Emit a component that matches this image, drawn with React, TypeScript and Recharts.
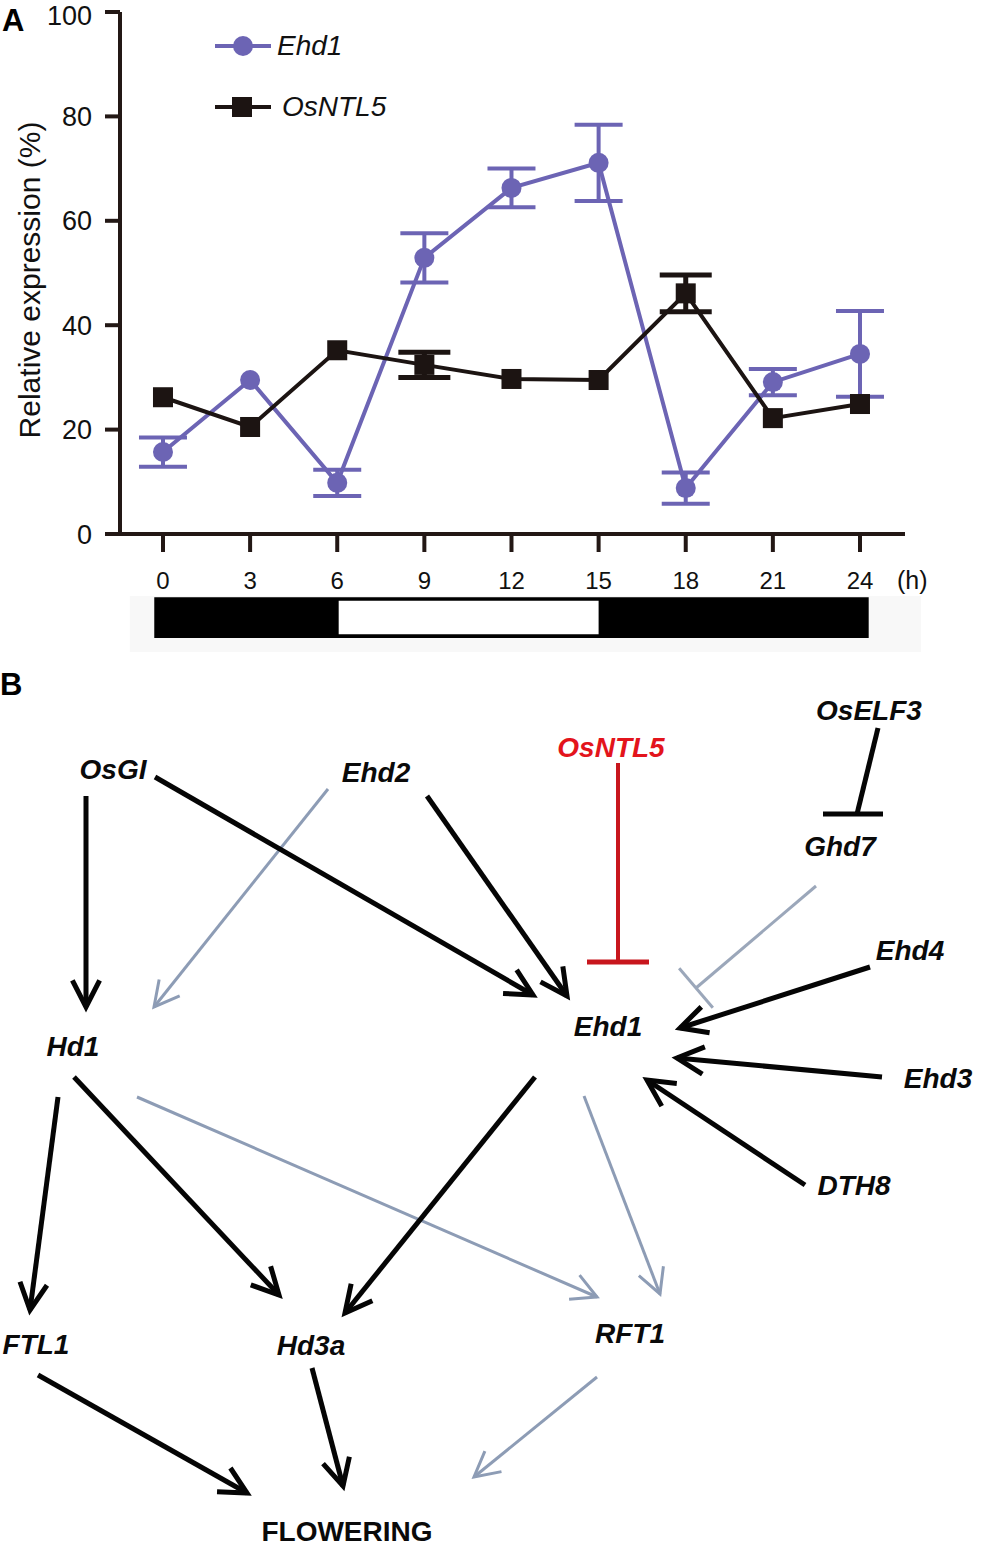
import React from "react";
import {
  LineChart,
  Line,
  XAxis,
  YAxis,
  ErrorBar,
  ReferenceArea,
  Legend,
  ScatterChart,
  Scatter,
  ReferenceLine,
} from "recharts";

const FONT = "'Liberation Sans', Arial, Helvetica, sans-serif";
const PURPLE = "#6c64b4";
const DARK = "#1c1412";
const AXIS = "#231815";

// --- panel A: diurnal expression ---
const hours = [0, 3, 6, 9, 12, 15, 18, 21, 24];
const ehd1 = [15.7, 29.5, 9.8, 52.9, 66.3, 71.1, 8.8, 29.1, 34.5];
const ehd1Err = [2.8, null, 2.5, 4.7, 3.7, 7.3, 3.0, 2.5, 8.2];
const osntl5 = [26.2, 20.5, 35.2, 32.4, 29.7, 29.5, 46.1, 22.2, 24.9];
const osntl5Err = [null, null, null, 2.4, null, null, 3.5, null, null];
const yTicks = [0, 20, 40, 60, 80, 100];

// photoperiod bar (h): dark / light / dark
const barStart = -0.3;
const barEnd = 24.3;
const lightOn = 6;
const lightOff = 15;

const seriesA = hours.map((h, i) => ({
  h,
  ehd1: ehd1[i],
  ehd1Err: ehd1Err[i],
  osntl5: osntl5[i],
  osntl5Err: osntl5Err[i],
}));

// --- panel B: regulatory network ---
const nodeNames = ["OsGI", "Ehd2", "OsNTL5", "OsELF3", "Ghd7", "Ehd4", "Ehd1", "Ehd3", "DTH8", "Hd1", "FTL1", "Hd3a", "RFT1", "FLOWERING"];
const nodeX = [113, 376, 611, 869, 840, 910, 608, 938, 854, 73, 36, 311, 630, 347];
const nodeY = [769, 772, 747, 710, 846, 950, 1026, 1078, 1185, 1046, 1344, 1345, 1333, 1531];
const redNodes = ["OsNTL5"];
const uprightNodes = ["FLOWERING"];

// act = induces, weak = weak induction, rep / inh / weakInh = repression
const edges = [
  { from: "OsGI", to: "Hd1", kind: "act", p: [86, 796, 86, 1007] },
  { from: "Ehd2", to: "Hd1", kind: "weak", p: [328, 789, 154, 1007] },
  { from: "OsGI", to: "Ehd1", kind: "act", p: [155, 777, 533, 995] },
  { from: "Ehd2", to: "Ehd1", kind: "act", p: [427, 796, 567, 996] },
  { from: "OsNTL5", to: "Ehd1", kind: "rep", p: [618, 763, 618, 962] },
  { from: "OsELF3", to: "Ghd7", kind: "inh", p: [878, 728, 857, 814] },
  { from: "Ghd7", to: "Ehd1", kind: "weakInh", p: [816, 886, 696, 988] },
  { from: "Ehd4", to: "Ehd1", kind: "act", p: [870, 967, 680, 1028] },
  { from: "Ehd3", to: "Ehd1", kind: "act", p: [882, 1077, 677, 1058] },
  { from: "DTH8", to: "Ehd1", kind: "act", p: [805, 1185, 647, 1080] },
  { from: "Hd1", to: "FTL1", kind: "act", p: [58, 1097, 30, 1310] },
  { from: "Hd1", to: "Hd3a", kind: "act", p: [74, 1077, 279, 1295] },
  { from: "Hd1", to: "RFT1", kind: "weak", p: [137, 1097, 597, 1297] },
  { from: "Ehd1", to: "Hd3a", kind: "act", p: [535, 1077, 345, 1313] },
  { from: "Ehd1", to: "RFT1", kind: "weak", p: [584, 1096, 660, 1294] },
  { from: "FTL1", to: "FLOWERING", kind: "act", p: [38, 1375, 247, 1493] },
  { from: "Hd3a", to: "FLOWERING", kind: "act", p: [312, 1368, 343, 1486] },
  { from: "RFT1", to: "FLOWERING", kind: "weak", p: [597, 1377, 474, 1477] },
];

const nodes = nodeNames.map((name, i) => ({ name, x: nodeX[i], y: nodeY[i] }));

const EDGE_STYLE: any = {
  act: { color: "#050505", width: 5, head: "arrow", len: 30, ang: 27 },
  weak: { color: "#8d9cb5", width: 3, head: "arrow", len: 28, ang: 28 },
  rep: { color: "#c8161d", width: 4, head: "bar", half: 31, barW: 5 },
  inh: { color: "#050505", width: 5, head: "bar", half: 30, barW: 5, flat: true, shift: -4 },
  weakInh: { color: "#9ba7ba", width: 3, head: "bar", half: 26, barW: 3 },
};

function edgeShape(kind: string) {
  const st = EDGE_STYLE[kind];
  return (props: any) => {
    const { x1, y1, x2, y2 } = props;
    const dx = x2 - x1;
    const dy = y2 - y1;
    const L = Math.hypot(dx, dy) || 1;
    const ux = dx / L;
    const uy = dy / L;
    let head: any = null;
    if (st.head === "arrow") {
      const a = (st.ang * Math.PI) / 180;
      const bx = -ux;
      const by = -uy;
      const ax1 = x2 + st.len * (bx * Math.cos(a) - by * Math.sin(a));
      const ay1 = y2 + st.len * (bx * Math.sin(a) + by * Math.cos(a));
      const ax2 = x2 + st.len * (bx * Math.cos(-a) - by * Math.sin(-a));
      const ay2 = y2 + st.len * (bx * Math.sin(-a) + by * Math.cos(-a));
      head = (
        <polyline
          points={`${ax1},${ay1} ${x2},${y2} ${ax2},${ay2}`}
          fill="none"
          stroke={st.color}
          strokeWidth={st.width}
          strokeLinejoin="miter"
        />
      );
    } else {
      const px = st.flat ? 1 : -uy;
      const py = st.flat ? 0 : ux;
      const cx = x2 + (st.shift || 0);
      head = (
        <line
          x1={cx - px * st.half}
          y1={y2 - py * st.half}
          x2={cx + px * st.half}
          y2={y2 + py * st.half}
          stroke={st.color}
          strokeWidth={st.barW}
        />
      );
    }
    return (
      <g>
        <line x1={x1} y1={y1} x2={x2} y2={y2} stroke={st.color} strokeWidth={st.width} />
        {head}
      </g>
    );
  };
}

function NodeLabel(props: any) {
  const { cx, cy, payload } = props;
  const red = redNodes.includes(payload.name);
  const upright = uprightNodes.includes(payload.name);
  return (
    <text
      x={cx}
      y={cy}
      textAnchor="middle"
      dominantBaseline="central"
      fontFamily={FONT}
      fontWeight="bold"
      fontStyle={upright ? "normal" : "italic"}
      fontSize={28}
      fill={red ? "#e3141c" : "#0a0a0a"}
    >
      {payload.name}
    </text>
  );
}

function SquareDot(props: any) {
  const { cx, cy, index } = props;
  if (cx == null || cy == null) return <g key={index} />;
  return <rect key={index} x={cx - 10} y={cy - 10} width={20} height={20} fill={DARK} />;
}

function LegendBox() {
  const row = { display: "flex", alignItems: "center", height: 30 } as const;
  const txt = { fontFamily: FONT, fontStyle: "italic", fontSize: 28, color: "#111", marginLeft: 6 } as const;
  return (
    <div>
      <div style={row}>
        <svg width={56} height={24}>
          <line x1={0} y1={12} x2={56} y2={12} stroke={PURPLE} strokeWidth={4} />
          <circle cx={28} cy={12} r={10} fill={PURPLE} />
        </svg>
        <span style={txt}>Ehd1</span>
      </div>
      <div style={{ ...row, marginTop: 31 }}>
        <svg width={56} height={24}>
          <line x1={0} y1={12} x2={56} y2={12} stroke={DARK} strokeWidth={4} />
          <rect x={17} y={2} width={20} height={20} fill={DARK} />
        </svg>
        <span style={{ ...txt, marginLeft: 11 }}>OsNTL5</span>
      </div>
    </div>
  );
}

const panelLabel = { position: "absolute", fontFamily: FONT, fontWeight: "bold", fontSize: 31, lineHeight: 1 } as const;

export default function App() {
  return (
    <div style={{ position: "absolute", left: 0, top: 0, width: 983, height: 1545, background: "#fff", overflow: "hidden" }}>
      <div style={{ ...panelLabel, left: 2, top: 5 }}>A</div>
      <div style={{ ...panelLabel, left: 0, top: 669 }}>B</div>

      <div style={{ position: "absolute", left: 0, top: 0 }}>
        <LineChart width={983} height={660} data={seriesA} margin={{ top: 12, right: 78, bottom: 66, left: 0 }}>
          <XAxis
            dataKey="h"
            type="number"
            domain={[-1.48, 25.55]}
            allowDataOverflow
            ticks={hours}
            height={60}
            stroke={AXIS}
            strokeWidth={4}
            tickSize={18}
            tickMargin={20}
            tickLine={{ stroke: AXIS, strokeWidth: 4 }}
            tick={{ fill: "#111", fontSize: 24, fontFamily: FONT }}
            label={(p: any) => {
              const vb = p.viewBox;
              return (
                <text x={vb.x + vb.width - 8} y={vb.y + 46} fontFamily={FONT} fontSize={25} fill="#111" dominantBaseline="central">
                  (h)
                </text>
              );
            }}
          />
          <YAxis
            type="number"
            domain={[0, 100]}
            ticks={yTicks}
            width={120}
            stroke={AXIS}
            strokeWidth={4}
            tickSize={15}
            tickMargin={13}
            tickLine={{ stroke: AXIS, strokeWidth: 4 }}
            tick={{ fill: "#111", fontSize: 27, fontFamily: FONT }}
            label={(p: any) => {
              const vb = p.viewBox;
              const cx = 29;
              const cy = vb.y + vb.height / 2 + 7;
              return (
                <text
                  x={cx}
                  y={cy}
                  transform={`rotate(-90 ${cx} ${cy})`}
                  textAnchor="middle"
                  dominantBaseline="central"
                  fontFamily={FONT}
                  fontSize={30}
                  fill="#111"
                >
                  Relative expression (%)
                </text>
              );
            }}
          />
          <ReferenceArea x1={-1.14} x2={26.1} y1={-11.9} y2={-22.6} ifOverflow="visible" fill="#f8f8f8" fillOpacity={1} stroke="none" />
          <ReferenceArea x1={barStart} x2={barEnd} y1={-12.1} y2={-19.9} ifOverflow="visible" fill="#000" fillOpacity={1} stroke="none" />
          <ReferenceArea x1={lightOn + 0.05} x2={lightOff} y1={-12.8} y2={-19.2} ifOverflow="visible" fill="#fff" fillOpacity={1} stroke="none" />
          <Line
            dataKey="ehd1"
            stroke={PURPLE}
            strokeWidth={4}
            dot={{ r: 10, fill: PURPLE, stroke: "none" }}
            activeDot={false}
            isAnimationActive={false}
          >
            <ErrorBar dataKey="ehd1Err" direction="y" width={24} stroke={PURPLE} strokeWidth={4} />
          </Line>
          <Line
            dataKey="osntl5"
            stroke={DARK}
            strokeWidth={4}
            dot={(p: any) => <SquareDot key={p.index} {...p} />}
            activeDot={false}
            isAnimationActive={false}
          >
            <ErrorBar dataKey="osntl5Err" direction="y" width={26} stroke={DARK} strokeWidth={5} />
          </Line>
          <Legend
            layout="vertical"
            align="center"
            verticalAlign="middle"
            content={() => <LegendBox />}
            wrapperStyle={{ left: 215, top: 31, width: 220, height: 100 }}
          />
        </LineChart>
      </div>

      <div style={{ position: "absolute", left: 0, top: 660 }}>
        <ScatterChart width={983} height={885} margin={{ top: 0, right: 0, bottom: 0, left: 0 }}>
          <XAxis type="number" dataKey="x" domain={[0, 983]} hide allowDataOverflow />
          <YAxis type="number" dataKey="y" domain={[660, 1545]} reversed hide allowDataOverflow />
          {edges.map((e, i) => (
            <ReferenceLine
              key={i}
              segment={[
                { x: e.p[0], y: e.p[1] },
                { x: e.p[2], y: e.p[3] },
              ]}
              ifOverflow="visible"
              shape={edgeShape(e.kind)}
            />
          ))}
          <Scatter data={nodes} shape={(p: any) => <NodeLabel {...p} />} isAnimationActive={false} />
        </ScatterChart>
      </div>
    </div>
  );
}
